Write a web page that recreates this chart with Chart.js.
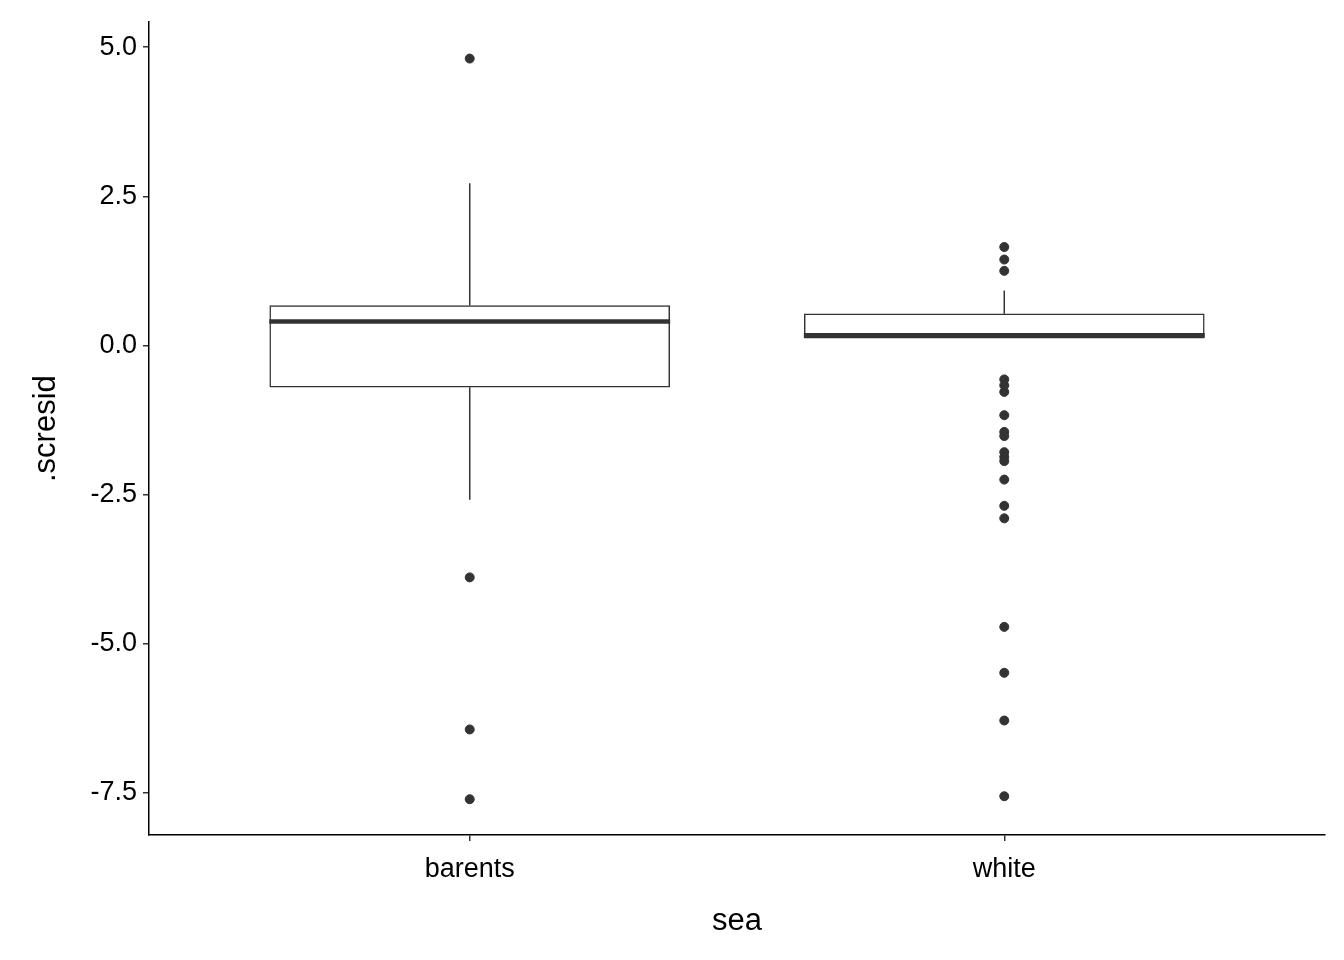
<!DOCTYPE html>
<html><head><meta charset="utf-8">
<script src="https://cdn.jsdelivr.net/npm/chart.js@4.4.0/dist/chart.umd.min.js"></script>
<style>html,body{margin:0;background:#fff}#w{width:1344px;height:960px}</style>
</head><body><div id="w"><canvas id="c"></canvas></div>
<script>
const categories = ['barents', 'white'];
const q1 = [-0.70, 0.12];
const medians = [0.40, 0.17];
const q3 = [0.67, 0.53];
const whiskerLow = [-2.59, 0.12];
const whiskerHigh = [2.72, 0.92];
const outliersBarents = [4.81, -3.89, -6.44, -7.61];
const outliersWhite = [1.65, 1.44, 1.25, -0.57, -0.67, -0.78, -1.17, -1.45, -1.52, -1.79, -1.87, -1.94, -2.25, -2.69, -2.90, -4.72, -5.49, -6.29, -7.56];
const yTicks = [-7.5, -5.0, -2.5, 0.0, 2.5, 5.0];

const ink = '#333333';
const boxPlugin = {
  id: 'boxparts',
  afterDatasetsDraw(chart) {
    const ctx = chart.ctx, xs = chart.scales.x, ys = chart.scales.y;
    const half = 0.375 * (xs.getPixelForValue(2) - xs.getPixelForValue(1));
    categories.forEach((c, i) => {
      const x = xs.getPixelForValue(i + 1);
      ctx.save();
      ctx.strokeStyle = ink; ctx.lineWidth = 1.5;
      ctx.beginPath();
      ctx.moveTo(x, ys.getPixelForValue(q3[i])); ctx.lineTo(x, ys.getPixelForValue(whiskerHigh[i]));
      ctx.moveTo(x, ys.getPixelForValue(q1[i])); ctx.lineTo(x, ys.getPixelForValue(whiskerLow[i]));
      ctx.stroke();
      ctx.lineWidth = 4.5;
      ctx.beginPath();
      const ym = ys.getPixelForValue(medians[i]);
      ctx.moveTo(x - half, ym); ctx.lineTo(x + half, ym);
      ctx.stroke();
      ctx.restore();
    });
  }
};

const font = {family: 'Arial, "Liberation Sans", sans-serif'};
new Chart(document.getElementById('c'), {
  type: 'bar',
  data: {
    datasets: [
      {
        type: 'bar',
        data: categories.map((c, i) => ({x: i + 1, y: [q1[i], q3[i]]})),
        backgroundColor: '#ffffff', borderColor: ink, borderWidth: 1.5,
        borderSkipped: false, barThickness: 400, order: 2
      },
      {
        type: 'scatter',
        data: outliersBarents.map(v => ({x: 1, y: v})).concat(outliersWhite.map(v => ({x: 2, y: v}))),
        backgroundColor: ink, borderColor: ink, pointRadius: 4.5, order: 1
      }
    ]
  },
  options: {
    responsive: true, maintainAspectRatio: false, animation: false,
    layout: {padding: {left: 0, right: 19, top: 18, bottom: 0}},
    plugins: {legend: {display: false}, tooltip: {enabled: false}},
    scales: {
      x: {
        type: 'linear', min: 0.4, max: 2.6, offset: false,
        afterBuildTicks: s => { s.ticks = categories.map((c, i) => ({value: i + 1})); },
        afterFit: s => { s.height = 125; },
        border: {display: true, color: '#000', width: 1.5},
        grid: {offset: false, drawOnChartArea: false, drawTicks: true, tickLength: 6, color: ink, lineWidth: 1.5},
        ticks: {color: '#000', font: {...font, size: 27}, padding: 12,
          callback: v => categories[Math.round(v) - 1]},
        title: {display: true, text: 'sea', color: '#000', font: {...font, size: 31}, padding: {top: 4, bottom: 20}}
      },
      y: {
        min: -8.21, max: 5.42,
        afterBuildTicks: s => { s.ticks = yTicks.map(v => ({value: v})); },
        afterFit: s => { s.width = 149; },
        border: {display: true, color: '#000', width: 1.5},
        grid: {drawOnChartArea: false, drawTicks: true, tickLength: 6, color: ink, lineWidth: 1.5},
        ticks: {color: '#000', font: {...font, size: 27}, padding: 6,
          callback: v => v.toFixed(1)},
        title: {display: true, text: '.scresid', color: '#000', font: {...font, size: 31}, padding: {top: 28, bottom: 4}}
      }
    }
  },
  plugins: [boxPlugin]
});
</script></body></html>
